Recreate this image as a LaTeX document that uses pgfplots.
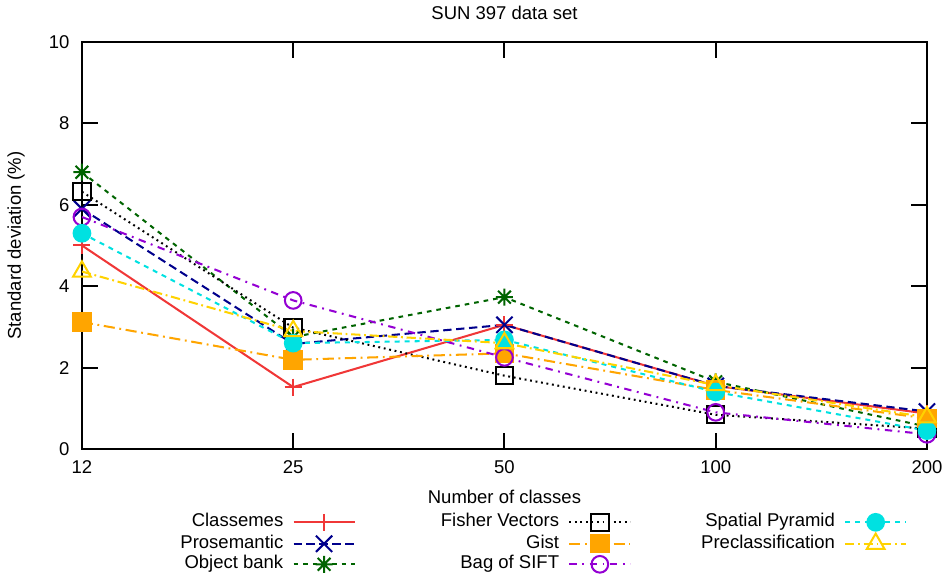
\documentclass[border=0pt]{standalone}
\usepackage{fontspec}
\setmainfont{Liberation Sans}
\usepackage{pgfplots}
\pgfplotsset{compat=1.18}

\definecolor{cClass}{RGB}{240,55,55}
\definecolor{cPros}{RGB}{0,0,140}
\definecolor{cObj}{RGB}{0,100,0}
\definecolor{cFish}{RGB}{0,0,0}
\definecolor{cGist}{RGB}{255,165,0}
\definecolor{cBos}{RGB}{148,0,211}
\definecolor{cSpat}{RGB}{0,225,225}
\definecolor{cPre}{RGB}{255,210,0}

\pgfdeclareplotmark{gpstar}{%
  \pgfpathmoveto{\pgfqpoint{-\pgfplotmarksize}{0pt}}%
  \pgfpathlineto{\pgfqpoint{\pgfplotmarksize}{0pt}}%
  \pgfpathmoveto{\pgfqpoint{0pt}{-\pgfplotmarksize}}%
  \pgfpathlineto{\pgfqpoint{0pt}{\pgfplotmarksize}}%
  \pgfpathmoveto{\pgfqpoint{-0.75\pgfplotmarksize}{-0.75\pgfplotmarksize}}%
  \pgfpathlineto{\pgfqpoint{0.75\pgfplotmarksize}{0.75\pgfplotmarksize}}%
  \pgfpathmoveto{\pgfqpoint{-0.75\pgfplotmarksize}{0.75\pgfplotmarksize}}%
  \pgfpathlineto{\pgfqpoint{0.75\pgfplotmarksize}{-0.75\pgfplotmarksize}}%
  \pgfusepathqstroke}

\pgfplotsset{
  base/.style={line width=1.1pt, mark options={solid}},
  sClass/.style={base, color=cClass, solid, mark=+, mark size=4.6pt},
  sPros/.style={base, color=cPros, dash pattern=on 4.5pt off 2.5pt, mark=x, mark size=6.2pt},
  sObj/.style={base, color=cObj, dash pattern=on 2.5pt off 2.7pt, mark=gpstar, mark size=4.6pt},
  sFish/.style={base, color=cFish, dash pattern=on 1pt off 2pt, mark=square, mark size=4.7pt},
  sGist/.style={base, color=cGist, dash pattern=on 6pt off 2.5pt on 1pt off 2.5pt, mark=square*, mark size=4.7pt, mark options={solid, fill=cGist}},
  sBos/.style={base, color=cBos, dash pattern=on 4pt off 3pt on 1pt off 3pt, mark=o, mark size=4.5pt},
  sSpat/.style={base, color=cSpat, dash pattern=on 2.7pt off 2.7pt, mark=*, mark size=4.5pt, mark options={solid, fill=cSpat}},
  sPre/.style={base, color=cPre, dash pattern=on 5pt off 2pt on 1pt off 2pt, mark=triangle, mark size=5.5pt},
}

\begin{document}
\begin{tikzpicture}
\begin{axis}[
  name=ax,
  scale only axis, width=456.8pt, height=220pt,
  xmin=0, xmax=4, ymin=0, ymax=10,
  xtick={0,1,2,3,4}, xticklabels={12,25,50,100,200},
  ytick={0,2,4,6,8,10},
  tick align=inside, major tick length=8.6pt,
  every tick/.style={black, line width=1.1pt},
  axis line style={line width=1.5pt},
  /pgf/number format/assume math mode=true,
  xticklabel style={anchor=base, yshift=-13.5pt},
  yticklabel style={xshift=-3.2pt},
  title={SUN 397 data set},
  title style={at={(axis description cs:0.5,1)}, anchor=base, yshift=6pt},
  xlabel={Number of classes},
  xlabel style={at={(axis description cs:0.5,-0.118)}, anchor=center},
  ylabel={Standard deviation (\%)},
  ylabel style={at={(axis description cs:-0.078,0.5)}, anchor=center},
  legend columns=3,
  legend cell align=right,
  legend plot pos=right,
  legend image code/.code={\draw[mark repeat=2,mark phase=2] plot coordinates {(0pt,0pt) (16.5pt,0pt) (33pt,0pt)};},
  legend style={at={(axis description cs:0.0189,-0.1566)}, anchor=north west,
    draw=none, fill=none, inner sep=0pt, /tikz/row sep=1.1pt,
    nodes={inner xsep=0pt, inner ysep=0.5pt, text height=7pt, text depth=2pt},
    /tikz/every odd column/.append style={column sep=5pt},
    /tikz/every even column/.append style={column sep=10pt}},
]
\addplot[sClass, forget plot] coordinates {(0,5.0) (1,1.52) (2,3.05) (3,1.55) (4,0.87)};
\addplot[sPros, forget plot] coordinates {(0,5.9) (1,2.58) (2,3.05) (3,1.55) (4,0.92)};
\addplot[sObj, forget plot] coordinates {(0,6.8) (1,2.75) (2,3.73) (3,1.65) (4,0.55)};
\addplot[sFish, forget plot] coordinates {(0,6.32) (1,2.98) (2,1.8) (3,0.84) (4,0.5)};
\addplot[sGist, forget plot] coordinates {(0,3.12) (1,2.19) (2,2.35) (3,1.45) (4,0.75)};
\addplot[sBos, forget plot] coordinates {(0,5.7) (1,3.65) (2,2.25) (3,0.9) (4,0.36)};
\addplot[sSpat, forget plot] coordinates {(0,5.3) (1,2.6) (2,2.68) (3,1.4) (4,0.45)};
\addplot[sPre, forget plot] coordinates {(0,4.36) (1,2.9) (2,2.6) (3,1.57) (4,0.78)};

\addlegendimage{sClass}\addlegendentry{\makebox[100pt][r]{Classemes}}
\addlegendimage{sFish}\addlegendentry{\makebox[100pt][r]{Fisher Vectors}}
\addlegendimage{sSpat}\addlegendentry{\makebox[100pt][r]{Spatial Pyramid}}
\addlegendimage{sPros}\addlegendentry{\makebox[100pt][r]{Prosemantic}}
\addlegendimage{sGist}\addlegendentry{\makebox[100pt][r]{Gist}}
\addlegendimage{sPre}\addlegendentry{\makebox[100pt][r]{Preclassification}}
\addlegendimage{sObj}\addlegendentry{\makebox[100pt][r]{Object bank}}
\addlegendimage{sBos}\addlegendentry{\makebox[100pt][r]{Bag of SIFT}}
\end{axis}
\pgfresetboundingbox
\path ([xshift=-44.3pt,yshift=-68.6pt]ax.south west) rectangle ([xshift=10.3pt,yshift=22.7pt]ax.north east);
\end{tikzpicture}
\end{document}
